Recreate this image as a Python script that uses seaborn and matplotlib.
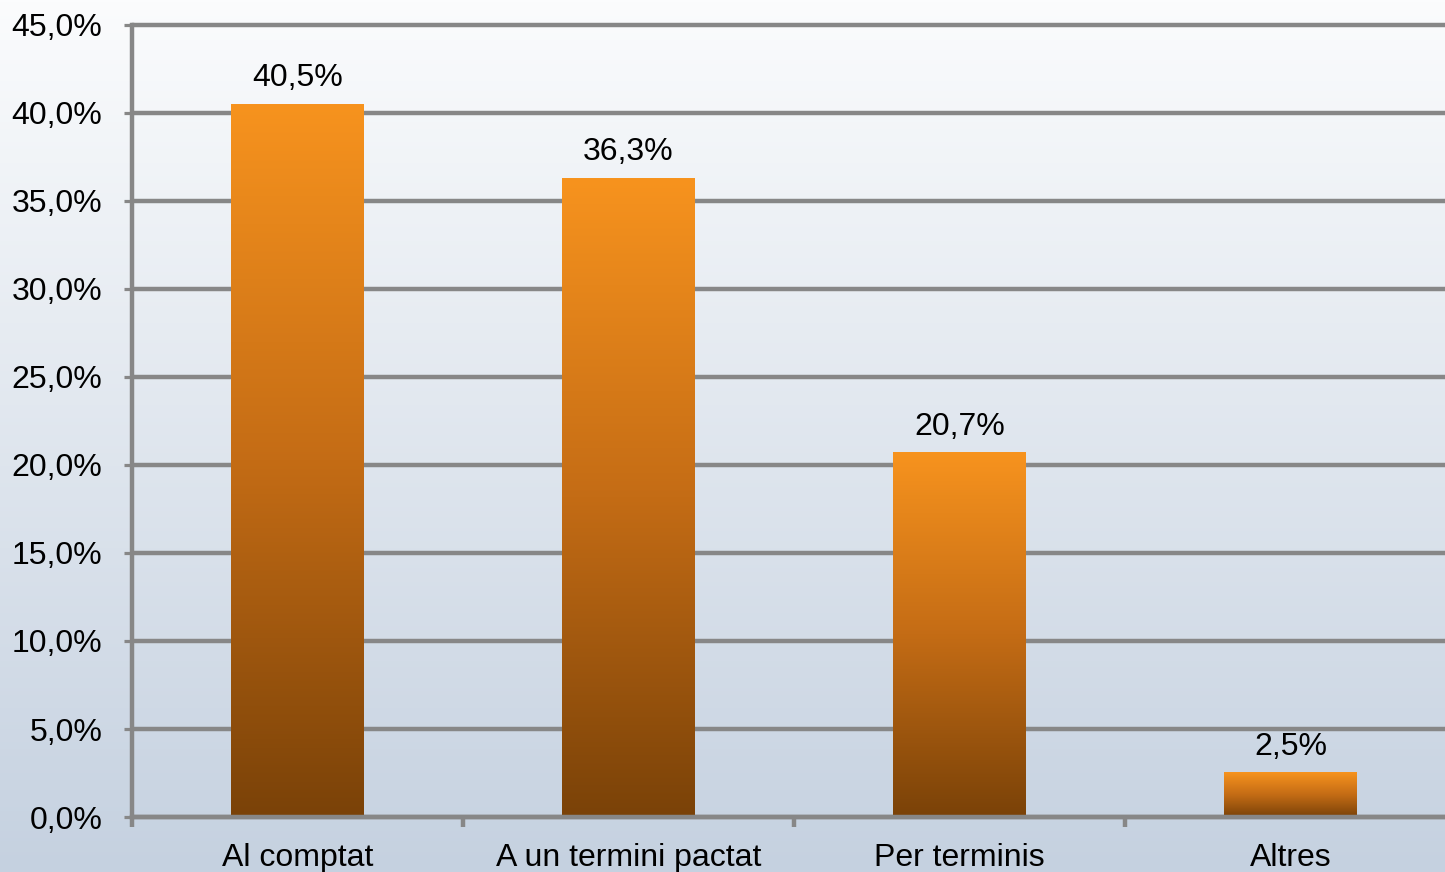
import numpy as np
import pandas as pd
import matplotlib
matplotlib.use("Agg")
import matplotlib.pyplot as plt
from matplotlib.colors import LinearSegmentedColormap
from matplotlib.ticker import FixedLocator
import seaborn as sns

categories = ["Al comptat", "A un termini pactat", "Per terminis", "Altres"]
values = [40.5, 36.3, 20.7, 2.5]
y_ticks = [0, 5, 10, 15, 20, 25, 30, 35, 40, 45]

df = pd.DataFrame({"cat": categories, "val": values})

sns.set_theme(style="white")
plt.rcParams["font.family"] = ["Liberation Sans", "DejaVu Sans"]

grid_col = "#878787"
fs = 23

fig = plt.figure(figsize=(14.45, 8.72), dpi=100)

# background gradient over the whole figure
bg = fig.add_axes([0, 0, 1, 1], zorder=-10)
bg_cmap = LinearSegmentedColormap.from_list("bg", ["#fbfcfd", "#c5d1e0"])
bg.imshow(np.linspace(0, 1, 256).reshape(-1, 1), aspect="auto", cmap=bg_cmap,
          extent=[0, 1, 0, 1])
bg.axis("off")

ax = fig.add_axes([132 / 1445, 55 / 872, 1324 / 1445, 792 / 872])
ax.patch.set_alpha(0)

sns.barplot(data=df, x="cat", y="val", width=0.4, color="#f7931e", ax=ax, zorder=3)

# vertical orange-to-brown gradient on each bar
bar_cmap = LinearSegmentedColormap.from_list("bar", ["#7a4208", "#c46c15", "#f7931e"])
grad = np.linspace(0, 1, 256).reshape(-1, 1)
for p in ax.patches:
    x0, y0 = p.get_x(), p.get_y()
    w, h = p.get_width(), p.get_height()
    ax.imshow(grad, aspect="auto", cmap=bar_cmap, origin="lower",
              extent=[x0, x0 + w, y0, y0 + h], zorder=4)
    p.set_visible(False)
    ax.annotate(f"{h:.1f}%".replace(".", ","), (x0 + w / 2, y0 + h),
                xytext=(0, 8), textcoords="offset points",
                ha="center", va="bottom", fontsize=fs, color="black")

ax.set_xlim(-0.5, 3.5)
ax.set_ylim(0, 45)
ax.set_yticks(y_ticks)
ax.set_yticklabels([f"{t:.1f}%".replace(".", ",") for t in y_ticks])
ax.set_xlabel("")
ax.set_ylabel("")

ax.yaxis.grid(True, color=grid_col, linewidth=3.2)
for gl in ax.get_ygridlines():
    gl.set_clip_on(False)
ax.set_axisbelow(True)

for s in ["top", "right"]:
    ax.spines[s].set_visible(False)
for s in ["left", "bottom"]:
    ax.spines[s].set_color(grid_col)
    ax.spines[s].set_linewidth(3.2)
    ax.spines[s].set_zorder(5)

ax.tick_params(axis="y", which="major", length=5.5, width=2.3, color=grid_col,
               left=True, pad=16, labelsize=fs, labelcolor="black")
ax.tick_params(axis="x", which="major", length=0, pad=19, labelsize=fs,
               labelcolor="black")
ax.xaxis.set_minor_locator(FixedLocator([-0.5, 0.5, 1.5, 2.5, 3.5]))
ax.tick_params(axis="x", which="minor", length=7, width=3.2, color=grid_col,
               bottom=True)

fig.savefig("out.png", dpi=100)
